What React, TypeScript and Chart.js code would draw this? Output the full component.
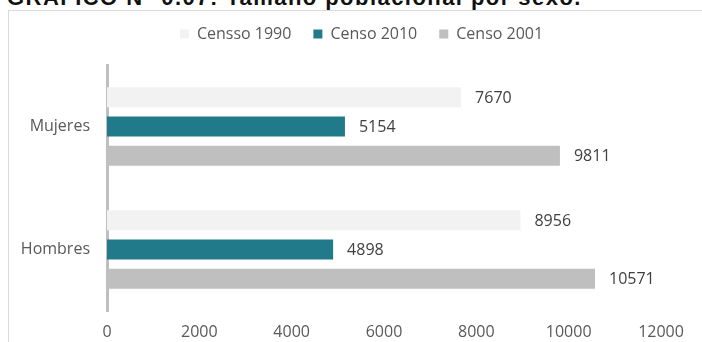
import React, { useEffect, useRef } from "react";
import { Chart, registerables } from "chart.js";

Chart.register(...registerables);

const titleText = "GRÁFICO N° 0.07: Tamaño poblacional por sexo.";
const categories = ["Mujeres", "Hombres"];
const seriesNames = ["Censso 1990", "Censo 2010", "Censo 2001"];
const censo1990 = [7670, 8956];
const censo2010 = [5154, 4898];
const censo2001 = [9811, 10571];
const seriesColors = ["#f2f2f2", "#217a8a", "#bfbfbf"];
const xMin = 0;
const xMax = 12000;
const xStep = 2000;

const FONT = "'Open Sans', sans-serif";

const legendHeightPlugin = {
  id: "legendHeight",
  beforeInit(chart: any) {
    const legend = chart.legend;
    if (!legend) return;
    const orig = legend.fit;
    legend.fit = function () {
      orig.call(this);
      this.height = 61;
    };
  },
  afterLayout(chart: any) {
    const legend = chart.legend;
    if (!legend) return;
    legend.left += 31;
    legend.right += 31;
  },
};

const dataLabelPlugin = {
  id: "dataLabels",
  afterDatasetsDraw(chart: any) {
    const ctx = chart.ctx;
    ctx.save();
    ctx.font = `16px ${FONT}`;
    ctx.fillStyle = "#404040";
    ctx.textAlign = "left";
    ctx.textBaseline = "middle";
    chart.data.datasets.forEach((ds: any, i: number) => {
      const meta = chart.getDatasetMeta(i);
      meta.data.forEach((bar: any, j: number) => {
        ctx.fillText(String(ds.data[j]), bar.x + 14, bar.y + 1);
      });
    });
    ctx.restore();
  },
};

export default function App() {
  const ref = useRef<HTMLCanvasElement | null>(null);
  useEffect(() => {
    if (!ref.current) return;
    const values = [censo1990, censo2010, censo2001];
    const chart = new Chart(ref.current, {
      type: "bar",
      data: {
        labels: categories,
        datasets: seriesNames.map((name, i) => ({
          label: name,
          data: values[i],
          backgroundColor: seriesColors[i],
          borderWidth: 0,
          categoryPercentage: 0.713,
          barPercentage: 0.68,
        })),
      },
      options: {
        indexAxis: "y",
        animation: false,
        responsive: false,
        maintainAspectRatio: false,
        layout: { padding: { top: 4, left: 0, right: 41, bottom: 0 } },
        plugins: {
          legend: {
            display: true,
            position: "top",
            labels: {
              boxWidth: 9,
              boxHeight: 9,
              padding: 22,
              color: "#595959",
              font: { family: FONT, size: 16 },
            },
          },
          tooltip: { enabled: false },
        },
        scales: {
          y: {
            grid: { display: false },
            border: { display: true, color: "#bfbfbf", width: 3 },
            ticks: {
              color: "#595959",
              font: { family: FONT, size: 16 },
              padding: 9,
            },
            afterFit(scale: any) {
              scale.width = 107;
            },
          },
          x: {
            min: xMin,
            max: xMax,
            grid: { display: false },
            border: { display: false },
            ticks: {
              stepSize: xStep,
              color: "#595959",
              font: { family: FONT, size: 16 },
              padding: 4,
              callback: (v: any) => String(v),
            },
            afterFit(scale: any) {
              scale.height = 31;
            },
          },
        },
      },
      plugins: [legendHeightPlugin, dataLabelPlugin],
    } as any);
    return () => chart.destroy();
  }, []);

  return (
    <div
      style={{
        position: "fixed",
        left: 0,
        top: 0,
        width: 702,
        height: 342,
        overflow: "hidden",
        background: "#ffffff",
      }}
    >
      <div
        style={{
          position: "absolute",
          left: 8,
          top: 10,
          width: 720,
          height: 360,
          borderTop: "1px solid #d9d9d9",
          borderLeft: "1px solid #d9d9d9",
        }}
      />
      <div
        style={{
          position: "absolute",
          left: 7,
          top: -13,
          fontFamily: "'Liberation Sans', Arial, sans-serif",
          fontWeight: "bold",
          fontSize: 22,
          lineHeight: "22px",
          color: "#111111",
          whiteSpace: "nowrap",
          letterSpacing: 1.45,
        }}
      >
        {titleText}
      </div>
      <canvas
        ref={ref}
        width={702}
        height={342}
        style={{ position: "absolute", left: 0, top: 0, width: 702, height: 342 }}
      />
    </div>
  );
}
